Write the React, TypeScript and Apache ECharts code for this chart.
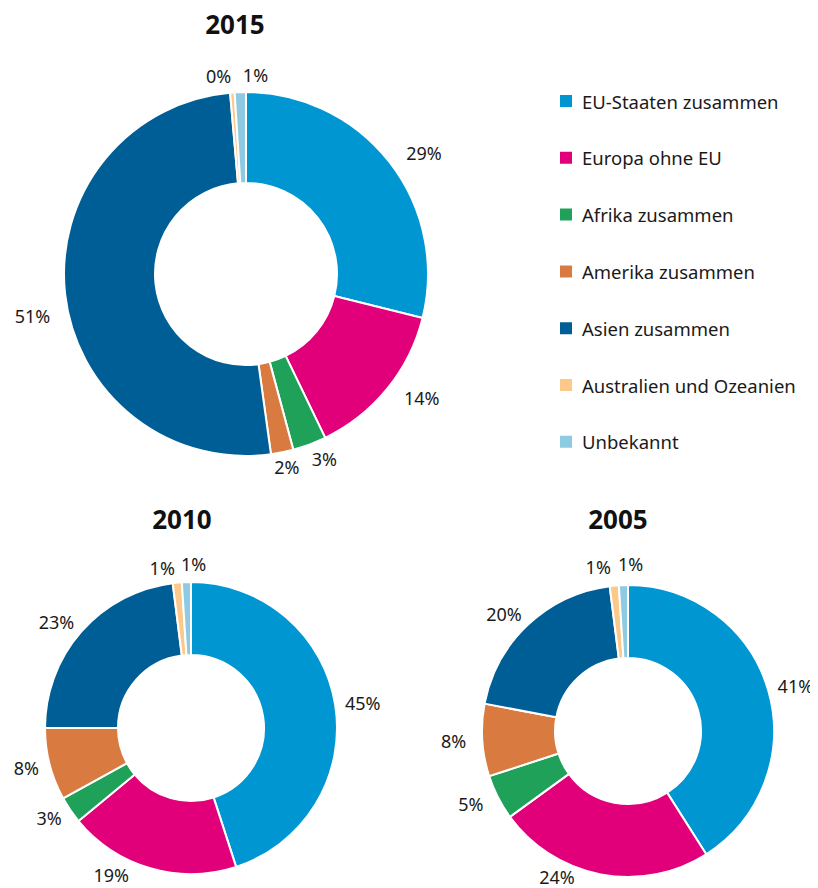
import React, { useEffect, useRef } from "react";
import * as echarts from "echarts";

const categories = [
  "EU-Staaten zusammen",
  "Europa ohne EU",
  "Afrika zusammen",
  "Amerika zusammen",
  "Asien zusammen",
  "Australien und Ozeanien",
  "Unbekannt",
];
const colors = ["#0096d2", "#e2007a", "#1fa15a", "#d97b40", "#005e96", "#fdc98a", "#8ecbe3"];
const values2015 = [29, 14, 3, 2, 51, 0.4, 1];
const values2010 = [45, 19, 3, 8, 23, 1, 1];
const values2005 = [41, 24, 5, 8, 20, 1, 1];
const years = ["2015", "2010", "2005"];

const FONT = "'Noto Sans', 'Open Sans', sans-serif";

// label nudges (style only): [seriesIndex, dataIndex, dx, dy, align]
const labelTweaks: [number, number, number, number, string?][] = [
  [0, 2, -8, 0],
  [0, 3, -16, 0],
  [0, 4, 5, 20],
  [0, 5, 5, -2],
  [0, 6, 8, -2, "left"],
  [1, 1, -12, -8],
  [1, 5, 4, 0],
  [1, 6, 0, -3, "left"],
  [2, 1, -18, -12],
  [2, 2, 4, 0],
  [2, 3, 4, 0],
  [2, 5, 3, -4],
  [2, 6, 0, -6, "left"],
];

export default function App() {
  const ref = useRef<HTMLDivElement>(null);
  useEffect(() => {
    if (!ref.current) return;
    const chart = echarts.init(ref.current, undefined, { renderer: "svg" });
    const mk = (vals: number[]) => categories.map((n, i) => ({ name: n, value: vals[i] }));
    const layoutFor = (si: number) => (p: any) => {
      const t = labelTweaks.find((x) => x[0] === si && x[1] === p.dataIndex);
      if (t) {
        const r: any = { dx: t[2], dy: t[3], hideOverlap: false };
        if (t[4]) r.align = t[4];
        return r;
      }
      if (si === 0) return { hideOverlap: false };
      return { dx: p.align === "left" ? -10 : 9, hideOverlap: false };
    };
    const label = {
      show: true,
      position: "outside",
      formatter: (p: any) => Math.round(p.value) + "%",
      fontSize: 18,
      color: "#1a1a1a",
      fontFamily: FONT,
      overflow: "none",
    };
    const base = {
      type: "pie",
      clockwise: true,
      startAngle: 90,
      avoidLabelOverlap: false,
      itemStyle: { borderColor: "#fff", borderWidth: 2 },
      label,
      labelLine: { show: false, length: 15, length2: 0 },
      emphasis: { disabled: true },
    };
    const titleStyle = { fontSize: 26, fontWeight: "bold", color: "#111", fontFamily: FONT };
    chart.setOption({
      animation: false,
      color: colors,
      textStyle: { fontFamily: FONT },
      title: [
        { text: years[0], left: 235, top: 11, padding: 0, textAlign: "center", textStyle: titleStyle },
        { text: years[1], left: 182, top: 506, padding: 0, textAlign: "center", textStyle: titleStyle },
        { text: years[2], left: 618, top: 506, padding: 0, textAlign: "center", textStyle: titleStyle },
      ],
      legend: {
        orient: "vertical",
        left: 558,
        top: 91,
        padding: 0,
        itemWidth: 14,
        itemHeight: 14,
        itemGap: 36.8,
        icon: "rect",
        data: categories,
        textStyle: { fontSize: 18.5, lineHeight: 20, color: "#1a1a1a", fontFamily: FONT, padding: [0, 0, 0, 4] },
        selectedMode: false,
      },
      series: [
        { ...base, name: years[0], center: [246, 274], radius: [91, 182], data: mk(values2015), labelLayout: layoutFor(0) },
        { ...base, name: years[1], center: [191, 728], radius: [73, 146], data: mk(values2010), labelLayout: layoutFor(1) },
        { ...base, name: years[2], center: [628, 731], radius: [73, 146], data: mk(values2005), labelLayout: layoutFor(2) },
      ],
    });
    return () => chart.dispose();
  }, []);
  return <div ref={ref} style={{ width: 818, height: 888, marginLeft: -8, marginTop: -8 }} />;
}
